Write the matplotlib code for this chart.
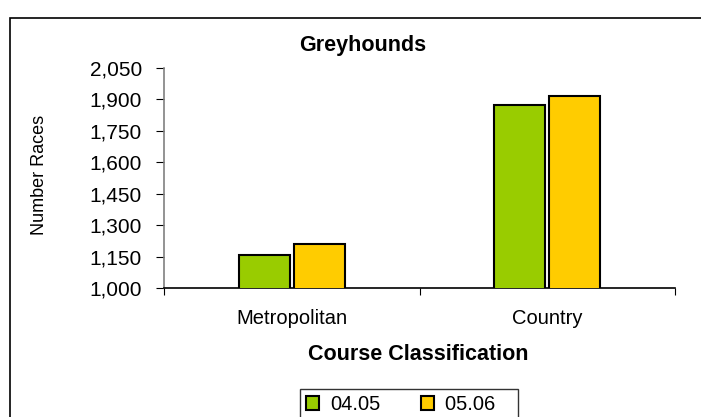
import matplotlib
matplotlib.use("Agg")
import matplotlib.pyplot as plt
from matplotlib.patches import Rectangle
import numpy as np

categories = ["Metropolitan", "Country"]
series_names = ["04.05", "05.06"]
values_0405 = [1158, 1874]
values_0506 = [1210, 1917]
colors = ["#99CC00", "#FFCC00"]
yticks = [1000, 1150, 1300, 1450, 1600, 1750, 1900, 2050]

plt.rcParams['font.family'] = ['Liberation Sans', 'DejaVu Sans']

W, H = 701, 417
fig = plt.figure(figsize=(W/100, H/100), dpi=100)
ax = fig.add_axes([164/W, 1-288/H, (675-164)/W, (288-68)/H])

x = np.arange(len(categories))
bw = 0.2
gap = 0.016
ax.bar(x - bw/2 - gap/2, values_0405, bw, color=colors[0], edgecolor='black', linewidth=1.5, label=series_names[0], zorder=3)
ax.bar(x + bw/2 + gap/2, values_0506, bw, color=colors[1], edgecolor='black', linewidth=1.5, label=series_names[1] + "   ", zorder=3)

ax.set_xlim(-0.5, 1.5)
ax.set_ylim(1000, 2050)
ax.set_yticks(yticks)
ax.set_yticklabels([f"{v:,}" for v in yticks], fontsize=15)
ax.set_xticks([-0.5, 0.5, 1.5])
ax.set_xticklabels([])
ax.set_xticks(x, minor=True)
ax.set_xticklabels(categories, minor=True, fontsize=14.5)
ax.tick_params(axis='x', which='minor', length=0, pad=15)
ax.tick_params(axis='x', which='major', length=5, color='black', direction='out')
ax.tick_params(axis='y', length=6, color='black', direction='out', pad=10)
for s in ['top', 'right']:
    ax.spines[s].set_visible(False)
ax.spines['left'].set_color('#808080')
ax.spines['left'].set_linewidth(1.2)
ax.spines['bottom'].set_color('black')
ax.spines['bottom'].set_linewidth(1.2)

fig.text(363/W, 1-45/H, "Greyhounds", ha='center', va='center', fontsize=15.5, fontweight='bold')
fig.text(418/W, 1-354/H, "Course Classification", ha='center', va='center', fontsize=15.5, fontweight='bold')
fig.text(39/W, 1-175/H, "Number Races", ha='center', va='center', rotation=90, fontsize=13)

# outer border
fig.patches.append(Rectangle((10/W, -0.1), 1.2, 1-18/H+0.1, transform=fig.transFigure,
                             fill=False, edgecolor='black', linewidth=1.2))

leg = fig.legend(loc='upper left', bbox_to_anchor=(300/W, 1-389/H), ncol=2, frameon=True,
                 fontsize=14.5, handlelength=0.65, handleheight=0.65, columnspacing=2.0,
                 handletextpad=0.55, borderpad=0.3, fancybox=False, borderaxespad=0)
leg.get_frame().set_edgecolor('black')
leg.get_frame().set_linewidth(1.0)

fig.savefig("out.png", dpi=100)
